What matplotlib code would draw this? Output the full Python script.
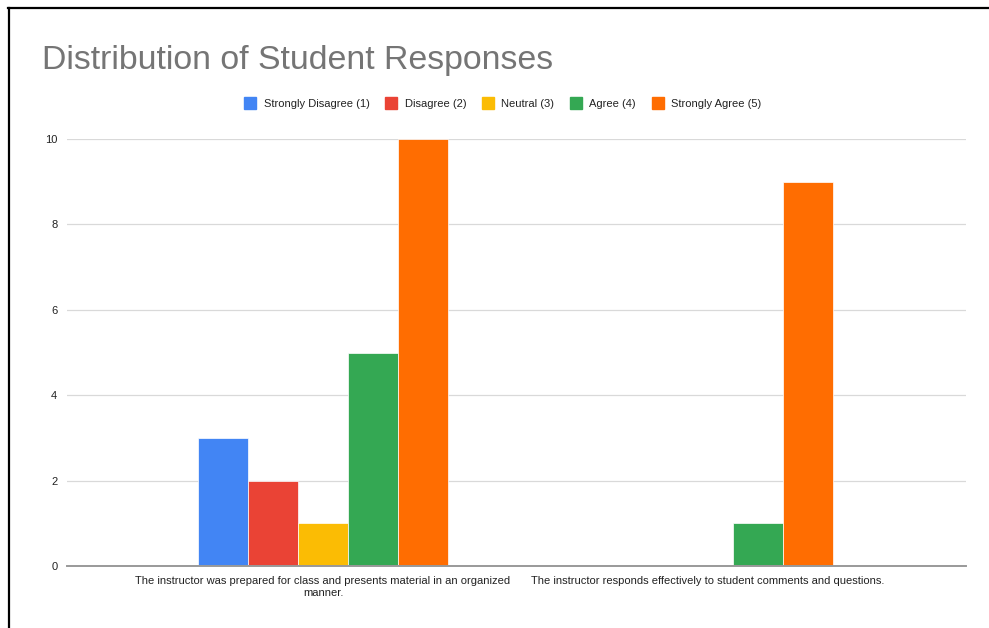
import matplotlib
matplotlib.use("Agg")
import matplotlib.pyplot as plt
from matplotlib.lines import Line2D
import numpy as np

plt.rcParams['font.family'] = ['Liberation Sans', 'DejaVu Sans']

categories = [
    "The instructor was prepared for class and presents material in an organized\nmanner.",
    "The instructor responds effectively to student comments and questions.",
]
series_names = ["Strongly Disagree (1)", "Disagree (2)", "Neutral (3)", "Agree (4)", "Strongly Agree (5)"]
series_values = [
    [3, 0],
    [2, 0],
    [1, 0],
    [5, 1],
    [10, 9],
]
colors = ["#4285F4", "#EA4335", "#FBBC04", "#34A853", "#FF6D01"]
yticks = [0, 2, 4, 6, 8, 10]

W, H = 989, 628
fig = plt.figure(figsize=(W / 100, H / 100), dpi=100)
ax = fig.add_axes([67 / W, (H - 566) / H, (966 - 67) / W, (566 - 139) / H])

x = np.arange(len(categories))
bw = 0.13
n = len(series_names)
for i, (name, vals, c) in enumerate(zip(series_names, series_values, colors)):
    offs = (i - (n - 1) / 2) * bw
    ax.bar(x + offs, vals, width=bw, color=c, label=name, edgecolor='white',
           linewidth=0.5, zorder=3)

ax.set_xlim(-0.665, 1.670)
ax.set_ylim(0, 10)
ax.set_yticks(yticks)
ax.set_yticklabels([str(v) for v in yticks], fontsize=8, color="#222222")
ax.tick_params(axis='y', length=0, pad=7)
ax.set_xticks(x)
ax.set_xticklabels(categories, fontsize=8, color="#222222", linespacing=1.3)
ax.tick_params(axis='x', length=0, pad=7)
ax.grid(axis='y', color="#d9d9d9", linewidth=0.9, zorder=0)
for s in ['top', 'right', 'left']:
    ax.spines[s].set_visible(False)
ax.spines['bottom'].set_color("#999999")
ax.spines['bottom'].set_linewidth(1.4)
ax.spines['bottom'].set_zorder(4)

fig.text(42 / W, 1 - 60.5 / H, "Distribution of Student Responses", fontsize=24.4,
         color="#757575", va='center', ha='left')

handles = [Line2D([0], [0], marker='s', linestyle='None', markersize=8,
                  markerfacecolor=c, markeredgecolor=c) for c in colors]
fig.legend(handles, series_names, loc='center', bbox_to_anchor=(503 / W, 1 - 104 / H),
           ncol=5, frameon=False, fontsize=8, handletextpad=0.7, columnspacing=1.45,
           handlelength=1.0, labelcolor="#222222")

# frame lines (screenshot border)
fig.add_artist(Line2D([8 / W, 1], [1 - 8 / H, 1 - 8 / H], color='black', linewidth=1.6,
                      transform=fig.transFigure))
fig.add_artist(Line2D([9 / W, 9 / W], [0, 1 - 8 / H], color='black', linewidth=1.6,
                      transform=fig.transFigure))

fig.savefig("out.png", dpi=100)
